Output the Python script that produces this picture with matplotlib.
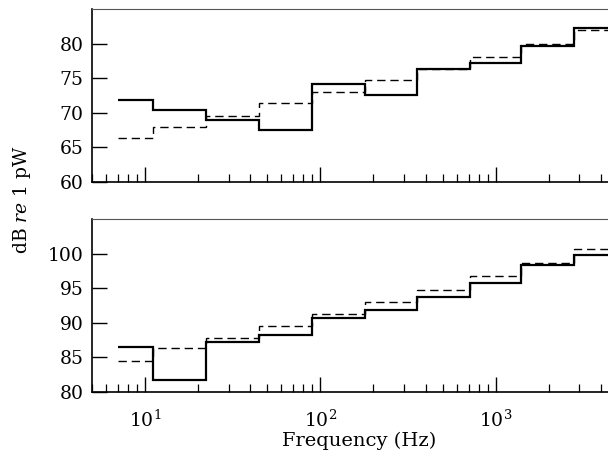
import matplotlib
matplotlib.use("Agg")
import matplotlib.pyplot as plt
from matplotlib.ticker import LogLocator, NullFormatter, FixedLocator

band_edges = [7.07, 11.2, 22.4, 45, 90, 180, 355, 710, 1400, 2800, 5600]
top_solid = [71.8, 70.4, 68.9, 67.5, 74.1, 72.6, 76.3, 77.2, 79.7, 82.2]
top_dashed = [66.4, 68.0, 69.5, 71.4, 73.0, 74.7, 76.4, 78.0, 80.0, 82.0]
bot_solid = [86.5, 81.7, 87.2, 88.3, 90.7, 91.9, 93.8, 95.7, 98.3, 99.8]
bot_dashed = [84.5, 86.3, 87.8, 89.6, 91.3, 93.0, 94.7, 96.7, 98.7, 100.7]
top_yticks = [60, 65, 70, 75, 80]
bot_yticks = [80, 85, 90, 95, 100]

plt.rcParams['font.family'] = ['DejaVu Serif']
plt.rcParams['mathtext.fontset'] = 'dejavuserif'

W, H = 608, 453
fig = plt.figure(figsize=(W/100, H/100), dpi=100)
L, R = 92/W, 627/W
ax1 = fig.add_axes([L, 1-182/H, R-L, (182-9)/H])
ax2 = fig.add_axes([L, 1-392/H, R-L, (392-219)/H])

for ax, s, d, yl, yt in [(ax1, top_solid, top_dashed, (60, 85), top_yticks),
                         (ax2, bot_solid, bot_dashed, (80, 105), bot_yticks)]:
    ax.stairs(s, band_edges, color='black', lw=1.6, baseline=None)
    ax.stairs(d, band_edges, color='black', lw=1.0, ls=(0, (6, 3.5)), baseline=None)
    ax.set_xscale('log')
    ax.set_xlim(5, 5600)
    ax.set_ylim(*yl)
    ax.yaxis.set_major_locator(FixedLocator(yt))
    ax.xaxis.set_major_locator(LogLocator(base=10, numticks=10))
    ax.xaxis.set_minor_locator(LogLocator(base=10, subs=range(2, 10), numticks=20))
    ax.xaxis.set_minor_formatter(NullFormatter())
    ax.tick_params(axis='both', which='major', direction='in', length=11, width=1.0,
                   labelsize=13.5, color='black')
    ax.tick_params(axis='x', which='minor', direction='in', length=5.5, width=0.9)
    ax.tick_params(axis='y', which='major', pad=6)
    ax.tick_params(axis='x', which='major', pad=13)
    ax.spines['left'].set_linewidth(1.2)
    ax.spines['bottom'].set_linewidth(1.2)
    ax.spines['top'].set_linewidth(0.8)
    ax.spines['top'].set_color('#555555')
    ax.spines['right'].set_visible(False)

ax1.tick_params(axis='x', which='both', labelbottom=False)
ax2.set_xlabel('Frequency (Hz)', fontsize=14, labelpad=0)

fig.text(22/W, 1-200/H, r'dB $\it{re}$ 1 pW', rotation=90, ha='center', va='center', fontsize=13.5)

fig.savefig('out.png', dpi=100)
